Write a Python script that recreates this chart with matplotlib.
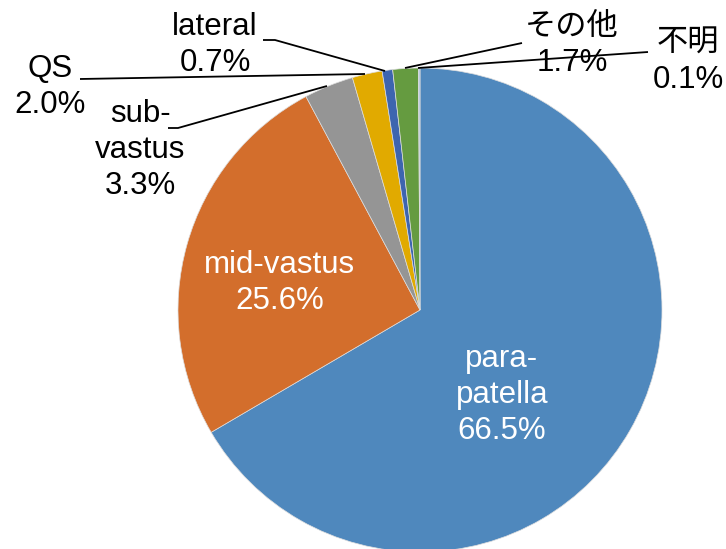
import matplotlib
matplotlib.use('Agg')
import matplotlib.pyplot as plt

labels = ['para-\npatella', 'mid-vastus', 'sub-\nvastus', 'QS', 'lateral', 'その他', '不明']
values = [66.5, 25.6, 3.3, 2.0, 0.7, 1.7, 0.1]
colors = ['#4F88BD', '#D36E2C', '#959595', '#E1AA00', '#3D65AF', '#659B40', '#A9C4E0']

W, H = 726, 549
plt.rcParams['font.family'] = ['Liberation Sans', 'Noto Sans CJK JP', 'DejaVu Sans']

fig = plt.figure(figsize=(W / 100, H / 100), dpi=100)
ax = fig.add_axes([0, 0, 1, 1])

def Y(y):
    # image pixel row -> data y
    return H - y

cx, cy, r = 420, 310, 242
ax.pie(values, colors=colors, startangle=90, counterclock=False,
       center=(cx, Y(cy)), radius=r, frame=True,
       wedgeprops=dict(edgecolor='#DDDDDD', linewidth=0.5))
ax.set_xlim(0, W)
ax.set_ylim(0, H)
ax.set_aspect('equal')
ax.axis('off')

fs = 22.5
ls = 1.25
txt = [f'{l}\n{v:.1f}%' for l, v in zip(labels, values)]

# inside labels
ax.text(502, Y(395), txt[0], color='white', fontsize=fs, ha='center', va='center', linespacing=ls)
ax.text(280, Y(283), txt[1], color='white', fontsize=fs, ha='center', va='center', linespacing=ls)

# outside labels with leader lines
ax.text(140, Y(150), txt[2], color='black', fontsize=fs, ha='center', va='center', linespacing=ls)
ax.text(50, Y(87), txt[3], color='black', fontsize=fs, ha='center', va='center', linespacing=ls)
ax.text(215, Y(45), txt[4], color='black', fontsize=fs, ha='center', va='center', linespacing=ls)
ax.text(572, Y(45), txt[5], color='black', fontsize=fs, ha='center', va='center', linespacing=ls)
ax.text(688, Y(62), txt[6], color='black', fontsize=fs, ha='center', va='center', linespacing=ls)

leaders = [
    [(168, 128), (178, 128), (327, 86)],
    [(80, 79), (365, 74)],
    [(263, 40), (275, 40), (385, 71)],
    [(522, 43), (405, 68)],
    [(648, 52), (418, 68)],
]
for pts in leaders:
    xs = [p[0] for p in pts]
    ys = [Y(p[1]) for p in pts]
    ax.plot(xs, ys, color='black', linewidth=1.3, solid_capstyle='butt')

fig.savefig('out.png', dpi=100)
